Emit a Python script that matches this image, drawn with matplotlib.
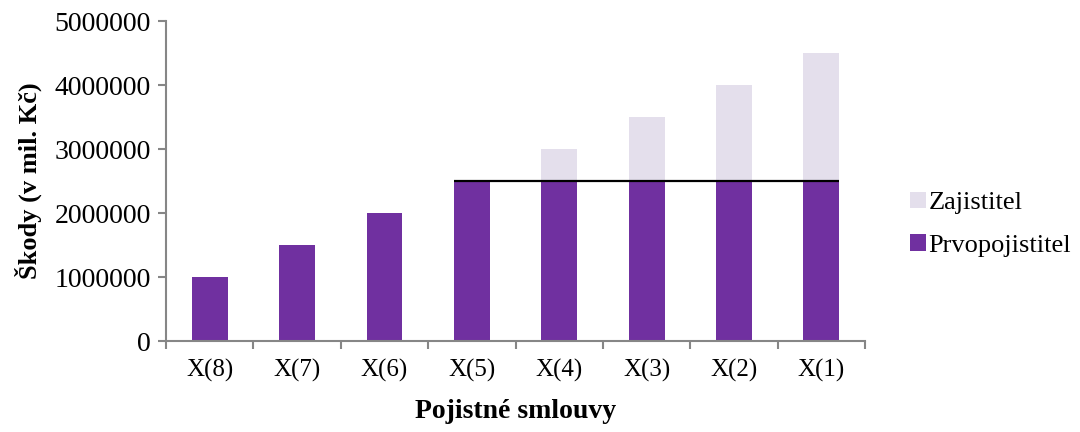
import matplotlib.pyplot as plt
import numpy as np

kategorie = ['X(8)', 'X(7)', 'X(6)', 'X(5)', 'X(4)', 'X(3)', 'X(2)', 'X(1)']
prvopojistitel = [1000000, 1500000, 2000000, 2500000, 2500000, 2500000, 2500000, 2500000]
zajistitel = [0, 0, 0, 0, 500000, 1000000, 1500000, 2000000]
retence = 2500000

plt.rcParams['font.family'] = ['Liberation Serif', 'DejaVu Serif']

fig = plt.figure(figsize=(10.8, 4.32), dpi=100)
ax = fig.add_axes([0.1537, 0.2106, 0.6473, 0.7404])

x = np.arange(len(kategorie))
w = 0.41
b1 = ax.bar(x, prvopojistitel, w, color='#7030A0', label='Prvopojistitel', zorder=2)
b2 = ax.bar(x, zajistitel, w, bottom=prvopojistitel, color='#E4DFEC', label='Zajistitel', zorder=2)

# hranice vlastniho vrubu
ax.hlines(retence, 3 - w / 2, 7 + w / 2, color='black', lw=1.6, zorder=3)

ax.set_xlim(-0.5, len(kategorie) - 0.5)
ax.set_ylim(0, 5000000)
ax.set_yticks(np.arange(0, 5000001, 1000000))
ax.set_yticklabels([str(v) for v in range(0, 5000001, 1000000)])
ax.set_xticks(x)
ax.set_xticklabels(kategorie)
ax.set_xticks(np.arange(-0.5, len(kategorie)), minor=True)
ax.tick_params(axis='x', which='major', length=0, pad=13, labelsize=18)
ax.tick_params(axis='x', which='minor', length=6, width=1.5, color='#868686')
ax.tick_params(axis='y', length=6, width=1.5, color='#868686', labelsize=20, pad=5)

for s in ['top', 'right']:
    ax.spines[s].set_visible(False)
for s in ['left', 'bottom']:
    ax.spines[s].set_color('#868686')
    ax.spines[s].set_linewidth(1.5)

ax.set_ylabel('Škody (v mil. Kč)', fontsize=19, fontweight='bold')
ax.yaxis.set_label_coords(-0.177, 0.5)
ax.set_xlabel('Pojistné smlouvy', fontsize=20, fontweight='bold')
ax.xaxis.set_label_coords(0.5, -0.18)

ax.legend([b2, b1], ['Zajistitel', 'Prvopojistitel'], loc='center left',
          bbox_to_anchor=(1.03, 0.365), frameon=False, fontsize=19,
          handlelength=0.6, handleheight=0.6, handletextpad=0.1, labelspacing=0.75)

fig.savefig('out.png', dpi=100)
